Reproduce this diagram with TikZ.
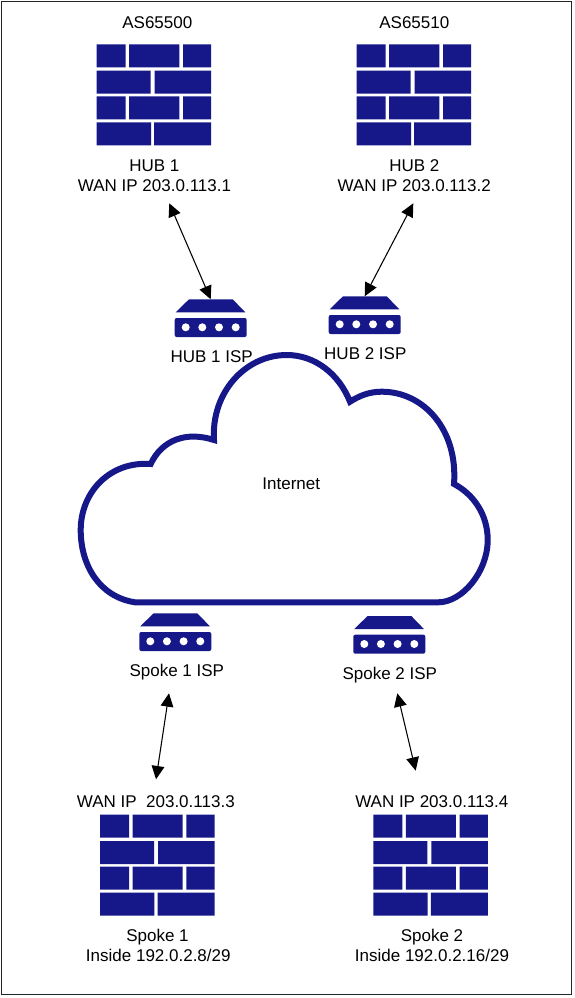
\documentclass[tikz,border=0pt]{standalone}
\usepackage{fontspec}
\setmainfont{Liberation Sans}
\usetikzlibrary{arrows.meta}
\definecolor{navy}{HTML}{16188A}
\tikzset{
  brick/.style={fill=navy,draw=none},
  label/.style={anchor=base,inner sep=0pt,font=\fontsize{12.75pt}{15pt}\selectfont,text=black},
  link/.style={draw=black,line width=0.8pt,{Triangle[length=10pt,width=9.5pt]}-{Triangle[length=10pt,width=9.5pt]}},
  frame/.style={draw=black!85,line width=1.1pt},
  cloud/.style={draw=navy,line width=4.5pt,fill=white,line join=miter}
}
\newcommand{\fwall}[3]{%
  \begin{scope}[shift={(#2,#3)}]
    \coordinate (#1) at (57,50);
    \fill[brick] (0,0) rectangle (29,23) (32.5,0) rectangle (82.6,23) (86.3,0) rectangle (114.5,23);
    \fill[brick] (0,26.4) rectangle (54,49.4) (58,26.4) rectangle (114.5,49.4);
    \fill[brick] (0,52) rectangle (29,75) (32.5,52) rectangle (82.6,75) (86.3,52) rectangle (114.5,75);
    \fill[brick] (0,78) rectangle (54.3,101) (57.5,78) rectangle (114.5,101);
  \end{scope}}
\newcommand{\rtr}[3]{%
  \begin{scope}[shift={(#2,#3)}]
    \coordinate (#1) at (36,0);
    \fill[brick] (14.3,0) -- (58,0) -- (70.6,13) -- (1,13) -- cycle;
    \fill[brick,rounded corners=1.5pt] (0,18.7) rectangle (72,37.7);
    \foreach \dx in {11,27.6,44.3,61} \fill[white] (\dx,28) circle (3pt);
  \end{scope}}
\begin{document}
\begin{tikzpicture}[x=0.75pt,y=-0.75pt]
\useasboundingbox (0,0) rectangle (574,998);
\fill[white] (0,0) rectangle (574,998);
\draw[frame] (1.5,1.5) rectangle (571.3,994.3);

% cloud
\draw[cloud] (135,602.3) -- (438.3,602.3)
  .. controls (462,602.3) and (487.7,572) .. (487.7,540)
  .. controls (487.7,514) and (473,494) .. (454,484)
  .. controls (458,430) and (424,391.7) .. (381.7,391.7)
  .. controls (369,391.7) and (359,396) .. (350,401.7)
  .. controls (339,374) and (315,355) .. (286.7,355)
  .. controls (245,355) and (211,393) .. (214,440)
  .. controls (186,431) and (162,440) .. (150.7,464)
  .. controls (110,461) and (80.7,492) .. (80.7,530)
  .. controls (80.7,566) and (100,597) .. (135,602.3)
  -- cycle;

% firewalls
\fwall{hubonefw}{96.7}{44.3}
\fwall{hubtwofw}{356.7}{44.3}
\fwall{spokeonefw}{100}{814.7}
\fwall{spoketwofw}{373.3}{814.7}

% routers
\rtr{huboneisp}{174.7}{299.3}
\rtr{hubtwoisp}{328.7}{296.3}
\rtr{spokeoneisp}{139.3}{613.3}
\rtr{spoketwoisp}{353.3}{616}

% labels
\node[label] (as1) at (157.3,29) {AS65500};
\node[label] (as2) at (414.3,29) {AS65510};
\node[label] (hub1) at (154.3,171.7) {HUB 1};
\node[label] (wan1) at (154.5,191.7) {WAN IP 203.0.113.1};
\node[label] (hub2) at (414.3,171.7) {HUB 2};
\node[label] (wan2) at (414.2,191.7) {WAN IP 203.0.113.2};
\node[label] (hub1isp) at (211.7,362.3) {HUB 1 ISP};
\node[label] (hub2isp) at (365.3,359.3) {HUB 2 ISP};
\node[label] (inet) at (291.3,489.3) {Internet};
\node[label] (sp1isp) at (176.8,676.7) {Spoke 1 ISP};
\node[label] (sp2isp) at (389.8,679) {Spoke 2 ISP};
\node[label] (wan3) at (155.8,807.3) {WAN IP\ \ 203.0.113.3};
\node[label] (wan4) at (431.8,807.3) {WAN IP 203.0.113.4};
\node[label] (sp1) at (157.5,941.7) {Spoke 1};
\node[label] (in1) at (158.3,961.7) {Inside 192.0.2.8/29};
\node[label] (sp2) at (432,941.7) {Spoke 2};
\node[label] (in2) at (432,961.7) {Inside 192.0.2.16/29};

% connector ends
\coordinate (a1) at (169.3,203.3);
\coordinate (a2) at (413.3,203.3);
\coordinate (a3) at (169,693.3);
\coordinate (a4) at (156,779.3);
\coordinate (a5) at (397.3,693.3);
\coordinate (a6) at (415.7,770.7);

\draw[link] (a1) -- (huboneisp);
\draw[link] (a2) -- (hubtwoisp);
\draw[link] (a3) -- (a4);
\draw[link] (a5) -- (a6);
\end{tikzpicture}
\end{document}
